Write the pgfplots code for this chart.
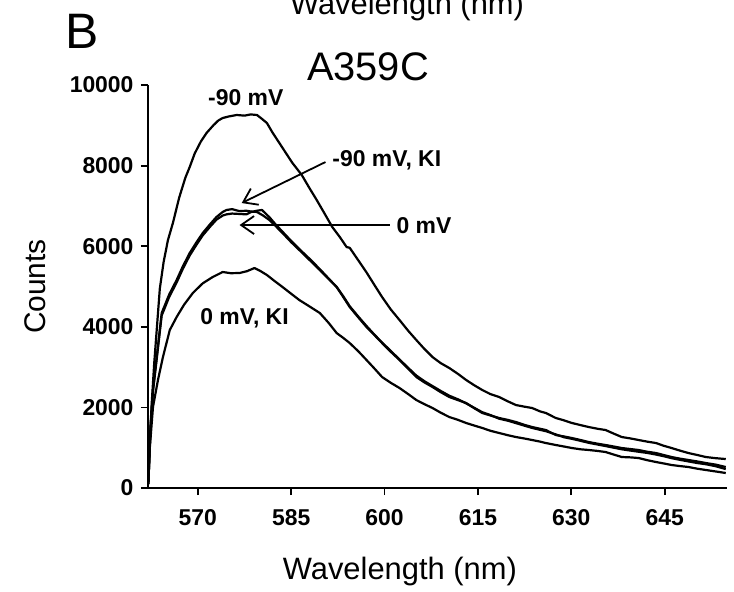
\documentclass[border=0pt]{standalone}
\usepackage{pgfplots}
\pgfplotsset{compat=1.18}
\usepackage{fontspec}
\setmainfont{Liberation Sans}
\usetikzlibrary{arrows.meta}

\begin{document}
\begin{tikzpicture}
\path[use as bounding box] (0bp,0bp) rectangle (734bp,-592bp);
\begin{axis}[
  at={(148bp,-488bp)}, anchor=south west,
  scale only axis, width=579bp, height=403bp,
  xmin=562, xmax=655, ymin=0, ymax=10000,
  axis x line*=bottom, axis y line*=left,
  axis line style={line width=2bp, black},
  tick align=outside, major tick length=7bp,
  every tick/.style={line width=1.8bp, black},
  xtick={570,585,...,645}, ytick={0,2000,...,10000},
  scaled y ticks=false, scaled x ticks=false,
  /pgf/number format/assume math mode=true,
  /pgf/number format/set thousands separator={},
  ticklabel style={font=\fontsize{23}{23}\selectfont\bfseries},
  xticklabel style={yshift=-11bp},
  yticklabel style={xshift=-4bp},
  title={A359C},
  title style={font=\fontsize{40}{40}\selectfont, at={(axis description cs:0.38,0.9975)}, anchor=base, inner sep=0pt},
  xlabel={Wavelength (nm)},
  xlabel style={font=\fontsize{31}{31}\selectfont, at={(axis description cs:0.435,-0.226)}, anchor=base, inner sep=0pt},
  ylabel={Counts},
  ylabel style={font=\fontsize{30}{30}\selectfont, at={(axis description cs:-0.195,0.5)}, anchor=center, inner sep=0pt},
  cycle list={black,mark=none,line width=2.2bp,line join=round\\},
]
% -90 mV
\addplot coordinates {
(562.05,100) (562.3,1200) (562.6,2110) (563.0,3100) (563.4,3920) (563.9,4950) (564.5,5600) (565.2,6150)
(566.0,6576) (567.0,7200) (568.0,7700) (568.7,7965) (569.5,8300) (570.5,8600) (571.4,8809) (572.5,9000)
(573.3,9120) (574.0,9181) (575.0,9220) (576.25,9256) (577.5,9240) (578.5,9270) (579.5,9256) (580.3,9160)
(581.1,9057) (582.0,8820) (583.1,8561) (584.2,8300) (585.2,8065) (586.7,7767) (587.9,7450) (589.1,7146)
(590.4,6800) (591.6,6476) (592.8,6230) (593.9,5980) (594.4,5960) (596.0,5600) (597.1,5350) (598.4,5030)
(599.6,4739) (601.0,4430) (602.4,4168) (603.8,3900) (605.1,3672) (606.4,3450) (607.7,3250) (609.0,3100)
(610.4,2977) (611.8,2830) (613.1,2680) (614.4,2550) (615.7,2431) (617.0,2330) (618.4,2258) (619.8,2150)
(621.1,2059) (622.4,2020) (623.7,1985) (625.0,1900) (625.9,1861) (627.5,1737) (628.8,1680) (630.1,1613)
(631.5,1560) (632.8,1513) (634.2,1470) (635.5,1439) (636.8,1350) (638.1,1265) (639.5,1230) (640.8,1191)
(642.2,1150) (643.6,1116) (644.8,1050) (646.1,992) (647.4,930) (648.8,868) (650.2,820) (651.6,769)
(653.2,740) (654.8,719)
};
% -90 mV, KI
\addplot coordinates {
(562.05,100) (562.4,1500) (562.8,2430) (563.4,3250) (564.2,4342) (565.4,4800) (566.6,5161) (567.6,5500)
(568.7,5831) (569.8,6100) (570.8,6328) (572.0,6550) (573.0,6725) (574.0,6850) (574.6,6898) (575.5,6920)
(576.7,6870) (577.8,6880) (578.6,6860) (579.5,6849) (580.5,6760) (581.5,6650) (582.5,6500) (583.6,6328)
(585.0,6100) (586.3,5906) (588.0,5650) (589.6,5409) (591.0,5190) (592.3,4988) (593.4,4730) (594.4,4491)
(595.8,4230) (597.1,3994) (598.4,3790) (599.6,3597) (601.0,3380) (602.4,3176) (603.8,2960) (605.1,2754)
(606.4,2620) (607.7,2506) (609.0,2380) (610.4,2258) (611.8,2180) (613.1,2109) (614.4,1980) (615.7,1861)
(617.0,1800) (618.4,1737) (619.8,1690) (621.1,1637) (622.4,1570) (623.7,1513) (625.9,1439) (627.5,1315)
(628.8,1280) (630.1,1240) (631.5,1190) (632.8,1141) (634.2,1100) (635.5,1067) (636.8,1030) (638.1,992)
(640.8,943) (642.2,900) (643.6,868) (644.8,820) (646.1,769) (647.4,730) (648.8,695) (650.2,660)
(651.6,620) (653.2,580) (654.8,521)
};
% 0 mV
\addplot coordinates {
(562.05,100) (562.4,1450) (562.8,2400) (563.4,3200) (564.2,4280) (565.4,4740) (566.6,5100) (567.6,5440)
(568.7,5770) (569.8,6040) (570.8,6270) (572.0,6490) (573.0,6660) (574.0,6760) (574.6,6790) (575.5,6810)
(576.7,6800) (577.8,6790) (578.6,6850) (579.5,6880) (580.3,6900) (581.5,6720) (582.5,6540) (583.6,6360)
(585.0,6130) (586.3,5930) (588.0,5680) (589.6,5430) (591.0,5200) (592.3,4990) (593.4,4750) (594.4,4510)
(595.8,4250) (597.1,4020) (598.4,3800) (599.6,3610) (601.0,3400) (602.4,3190) (603.8,2980) (605.1,2790)
(606.4,2650) (607.7,2530) (609.0,2410) (610.4,2290) (611.8,2200) (613.1,2100) (614.4,1990) (615.7,1880)
(617.0,1810) (618.4,1720) (619.8,1670) (621.1,1610) (622.4,1550) (623.7,1490) (625.9,1410) (627.5,1330)
(628.8,1260) (630.1,1220) (631.5,1170) (632.8,1120) (634.2,1080) (635.5,1040) (636.8,1000) (638.1,960)
(640.8,900) (642.2,870) (643.6,830) (644.8,790) (646.1,740) (647.4,700) (648.8,660) (650.2,620)
(651.6,590) (653.2,540) (654.8,470)
};
% 0 mV, KI
\addplot coordinates {
(562.05,100) (562.3,1017) (562.8,2010) (563.6,2680) (564.4,3250) (565.5,3920) (566.6,4243) (567.8,4550)
(569.2,4839) (570.8,5080) (572.4,5236) (574.0,5360) (575.3,5330) (576.7,5335) (577.9,5380) (579.1,5459)
(580.1,5380) (581.1,5285) (582.3,5140) (583.6,4988) (585.0,4820) (586.3,4665) (588.0,4500) (589.6,4342)
(591.0,4100) (592.3,3846) (593.4,3720) (594.4,3597) (595.8,3390) (597.1,3176) (598.4,2960) (599.6,2754)
(601.0,2610) (602.4,2481) (603.8,2330) (605.1,2183) (606.4,2080) (607.7,1985) (609.0,1870) (610.4,1761)
(611.8,1690) (613.1,1613) (614.4,1550) (615.7,1489) (617.0,1420) (618.4,1365) (619.8,1310) (621.1,1265)
(622.4,1230) (623.7,1191) (625.0,1150) (625.9,1116) (627.5,1067) (628.8,1030) (630.1,992) (631.5,960)
(632.8,943) (634.2,920) (635.5,893) (636.8,830) (638.1,769) (639.5,760) (640.8,744) (642.2,690)
(643.6,645) (644.8,610) (646.1,571) (647.4,545) (648.8,521) (650.2,480) (651.6,447) (653.2,410)
(654.8,372)
};
\node[font=\fontsize{23}{23}\selectfont\bfseries, inner sep=0pt] at (axis cs:577.7,9676) {-90 mV};
\node[font=\fontsize{23}{23}\selectfont\bfseries, inner sep=0pt, anchor=west] at (axis cs:591.6,8138) {-90 mV, KI};
\node[font=\fontsize{23}{23}\selectfont\bfseries, inner sep=0pt, anchor=west] at (axis cs:601.9,6500) {0 mV};
\node[font=\fontsize{23}{23}\selectfont\bfseries, inner sep=0pt] at (axis cs:577.5,4218) {0 mV, KI};
\draw[line width=1.8bp, -{Straight Barb[length=13bp,width=18bp]}] (axis cs:590.5,8088) -- (axis cs:577.05,7071);
\draw[line width=1.8bp, -{Straight Barb[length=13bp,width=18bp]}] (axis cs:600.8,6525) -- (axis cs:576.7,6525);
\end{axis}
\node[font=\fontsize{50}{50}\selectfont, anchor=base, inner sep=0pt] at (82.5bp,-48bp) {B};
\node[font=\fontsize{31}{31}\selectfont, anchor=base, inner sep=0pt] at (407bp,-14bp) {Wavelength (nm)};
\end{tikzpicture}
\end{document}
